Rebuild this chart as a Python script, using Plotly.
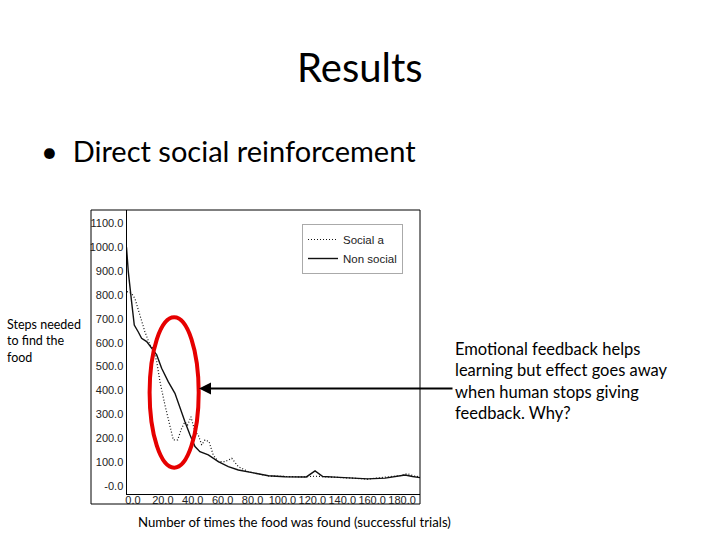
import plotly.graph_objects as go

# values (x = successful trials, y = steps)
social_x = [-4.0, -0.9, 1.3, 4.7, 8.0, 11.4, 13.6, 15.9, 18.1, 21.4, 24.8, 27.0, 29.9, 32.6,
            34.8, 36.6, 38.8, 41.5, 43.7, 46.0, 48.2, 50.9, 53.7, 57.1, 61.6, 66.1, 70.5,
            77.2, 90.6, 101.7, 112.9, 121.8, 128.5, 146.4, 157.0, 168.0, 179.0, 183.5, 188.0, 192.0]
social_y = [814, 807, 786, 716, 646, 591, 577, 521, 437, 339, 242, 193, 193, 242,
            269, 256, 290, 227, 214, 172, 193, 186, 130, 102, 102, 116, 81,
            60, 42, 39, 38, 41, 38, 33, 29, 36, 44, 52, 42, 38]

non_social_x = [-4.3, -3.1, -0.9, 0.9, 3.5, 5.8, 9.2, 12.5, 15.9, 19.2, 23.6, 28.1, 31.5,
                34.8, 38.2, 41.5, 44.8, 50.4, 57.1, 63.8, 70.5, 79.5, 90.6, 101.7, 112.9,
                116.0, 121.8, 127.0, 135.0, 146.4, 157.0, 168.7, 176.0, 182.0, 187.0, 192.0]
non_social_y = [1000, 898, 772, 674, 646, 619, 605, 577, 549, 493, 437, 388, 326,
                269, 214, 165, 144, 130, 102, 81, 67, 56, 43, 39, 36,
                38, 63, 40, 37, 34, 30, 33, 40, 46, 40, 35]

y_ticks = list(range(0, 1200, 100))
y_labels = ["-0.0"] + [f"{v}.0" for v in y_ticks[1:]]
x_ticks = list(range(0, 200, 20))
x_labels = [f"{v}.0" for v in x_ticks]

W, H = 720, 540

fig = go.Figure()
fig.add_trace(go.Scatter(x=social_x, y=social_y, mode="lines", name="Social a",
                         line=dict(color="#111111", width=1.2, dash="1px,2px")))
fig.add_trace(go.Scatter(x=non_social_x, y=non_social_y, mode="lines", name="Non social",
                         line=dict(color="#111111", width=1.4)))

axis_font = dict(family="Liberation Sans, Arial", size=11, color="#222222")

fig.update_layout(
    width=W, height=H,
    margin=dict(l=0, r=0, t=0, b=0),
    paper_bgcolor="white", plot_bgcolor="white",
    showlegend=True,
    legend=dict(x=302 / W, y=1 - 224 / H, xanchor="left", yanchor="top",
                bgcolor="white", bordercolor="#aaaaaa", borderwidth=1,
                font=dict(family="Liberation Sans, Arial", size=11.5, color="#222222"),
                itemwidth=30, tracegroupgap=0),
    xaxis=dict(domain=[126.5 / W, 420 / W], range=[-4.3, 192], showgrid=False,
               zeroline=False, showline=True, linecolor="black", linewidth=1,
               tickvals=x_ticks, ticktext=x_labels, ticks="", tickfont=axis_font,
               ticklabelstandoff=-4),
    yaxis=dict(domain=[1 - 494 / H, 1 - 210 / H], range=[-33.5, 1156], showgrid=False,
               zeroline=False, showline=True, linecolor="black", linewidth=1,
               tickvals=y_ticks, ticktext=y_labels, ticks="", tickfont=axis_font),
)

# frame around the pasted chart image
fig.add_shape(type="rect", xref="paper", yref="paper",
              x0=91 / W, x1=420 / W, y0=1 - 504 / H, y1=1 - 210 / H,
              line=dict(color="black", width=1))

# red ellipse highlighting the dip
fig.add_shape(type="circle", xref="paper", yref="paper",
              x0=149.6 / W, x1=198.7 / W, y0=1 - 467.7 / H, y1=1 - 317.3 / H,
              line=dict(color="#e60000", width=4))

# arrow from the note to the ellipse
fig.add_annotation(x=199 / W, y=1 - 388.5 / H, xref="paper", yref="paper",
                   ax=255, ay=0, text="", showarrow=True,
                   arrowhead=2, arrowsize=1.2, arrowwidth=2, arrowcolor="black")

slide_font = "Lato, Open Sans, sans-serif"

fig.add_annotation(x=360 / W, y=1 - 67 / H, xref="paper", yref="paper",
                   text="Results", showarrow=False, xanchor="center", yanchor="middle",
                   font=dict(family=slide_font, size=40, color="black"))
fig.add_annotation(x=39 / W, y=1 - 150 / H, xref="paper", yref="paper",
                   text="•  Direct social reinforcement", showarrow=False,
                   xanchor="left", yanchor="middle",
                   font=dict(family=slide_font, size=29, color="black"))
fig.add_annotation(x=5 / W, y=1 - 340.5 / H, xref="paper", yref="paper",
                   text="Steps needed<br>to find the<br>food", showarrow=False,
                   xanchor="left", yanchor="middle", align="left",
                   font=dict(family=slide_font, size=12.5, color="black"))
fig.add_annotation(x=453 / W, y=1 - 380.5 / H, xref="paper", yref="paper",
                   text="Emotional feedback helps<br>learning but effect goes away<br>"
                        "when human stops giving<br>feedback. Why?",
                   showarrow=False, xanchor="left", yanchor="middle", align="left",
                   font=dict(family=slide_font, size=16.5, color="black"))
fig.add_annotation(x=294 / W, y=1 - 522 / H, xref="paper", yref="paper",
                   text="Number of times the food was found (successful trials)",
                   showarrow=False, xanchor="center", yanchor="middle",
                   font=dict(family=slide_font, size=13.2, color="black"))

fig.write_html("out.html", config={"displayModeBar": False},
               post_script="document.body.style.margin='0';")
